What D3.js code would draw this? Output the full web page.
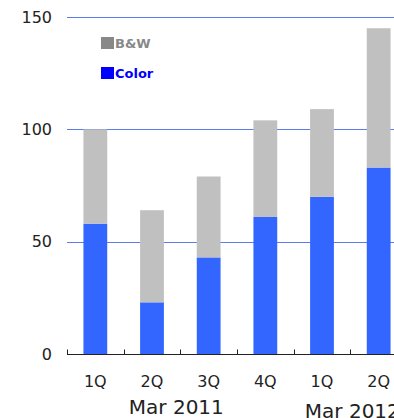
<!DOCTYPE html>
<html>
<head>
<meta charset="utf-8">
<script src="https://cdn.jsdelivr.net/npm/d3@7"></script>
<style>
  body { margin: 0; background: #fff; }
  svg { display: block; font-family: "DejaVu Sans", "Noto Sans", sans-serif; }
</style>
</head>
<body>
<svg id="chart" width="394" height="418"></svg>
<script>
// quarters and values
const quarters = ['1Q', '2Q', '3Q', '4Q', '1Q ', '2Q '];
const colorVals = [58, 23, 43, 61, 70, 83];
const bwVals = [42, 41, 36, 43, 39, 62];
const yTicks = [0, 50, 100, 150];
const periods = [{ label: 'Mar 2011', at: 2, dx: -4, dy: 407 }, { label: 'Mar 2012', at: 5, dx: 2, dy: 411 }];

const width = 394, height = 418;
const margin = { left: 67, top: 17, bottom: 64 };
const plotW = 340;

const svg = d3.select('#chart');

const x = d3.scaleBand()
  .domain(quarters)
  .range([margin.left, margin.left + plotW])
  .paddingInner(0.58)
  .paddingOuter(0.29);

const y = d3.scaleLinear()
  .domain([0, 150])
  .range([height - margin.bottom, margin.top]);

// gridlines
svg.append('g')
  .selectAll('line')
  .data(yTicks.filter(d => d > 0))
  .join('line')
  .attr('x1', margin.left)
  .attr('x2', width)
  .attr('y1', d => Math.round(y(d)) + 0.5)
  .attr('y2', d => Math.round(y(d)) + 0.5)
  .attr('stroke', '#5b7cf0')
  .attr('stroke-width', 1);

// y labels
svg.append('g')
  .selectAll('text')
  .data(yTicks)
  .join('text')
  .attr('x', 52)
  .attr('y', d => y(d))
  .attr('dy', '0.36em')
  .attr('text-anchor', 'end')
  .attr('font-size', 16)
  .attr('fill', '#222')
  .text(d => d);

// stacked bars
const rows = quarters.map((q, i) => ({ q, color: colorVals[i], bw: bwVals[i] }));
const stack = d3.stack().keys(['color', 'bw'])(rows);
const fills = { color: '#3366ff', bw: '#c0c0c0' };

svg.append('g')
  .selectAll('g')
  .data(stack)
  .join('g')
  .attr('fill', d => fills[d.key])
  .selectAll('rect')
  .data(d => d)
  .join('rect')
  .attr('x', d => x(d.data.q))
  .attr('width', x.bandwidth())
  .attr('y', d => y(d[1]))
  .attr('height', d => y(d[0]) - y(d[1]));

// x axis with ticks pointing up
const base = Math.round(y(0)) + 0.5;
const edge = d => x(d) - x.step() * x.paddingInner() / 2;
const axis = svg.append('g');
axis.append('line')
  .attr('x1', margin.left).attr('x2', width)
  .attr('y1', base).attr('y2', base)
  .attr('stroke', '#222');
axis.selectAll('.tk')
  .data(quarters)
  .join('line')
  .attr('class', 'tk')
  .attr('x1', d => Math.round(edge(d)) + 0.5)
  .attr('x2', d => Math.round(edge(d)) + 0.5)
  .attr('y1', base).attr('y2', base - 5)
  .attr('stroke', '#222');

axis.selectAll('.ql')
  .data(quarters)
  .join('text')
  .attr('class', 'ql')
  .attr('x', d => x(d) + x.bandwidth() / 2)
  .attr('y', 381)
  .attr('dy', '0.36em')
  .attr('text-anchor', 'middle')
  .attr('font-size', 16)
  .attr('fill', '#222')
  .text(d => d.trim());

axis.selectAll('.pl')
  .data(periods)
  .join('text')
  .attr('class', 'pl')
  .attr('x', d => edge(quarters[d.at]) + d.dx)
  .attr('y', d => d.dy)
  .attr('dy', '0.36em')
  .attr('text-anchor', 'middle')
  .attr('font-size', 20)
  .attr('fill', '#222')
  .text(d => d.label);

// legend
const legend = [{ label: 'B&W', sw: '#888888', tc: '#888888' }, { label: 'Color', sw: '#0000ff', tc: '#0000ff' }];
const lg = svg.append('g').selectAll('g')
  .data(legend)
  .join('g')
  .attr('transform', (d, i) => `translate(101, ${37 + i * 30})`);
lg.append('rect').attr('width', 13).attr('height', 12).attr('fill', d => d.sw);
lg.append('text')
  .attr('x', 14).attr('y', 6).attr('dy', '0.36em')
  .attr('font-size', 13).attr('font-weight', 'bold')
  .attr('fill', d => d.tc)
  .text(d => d.label);
</script>
</body>
</html>
